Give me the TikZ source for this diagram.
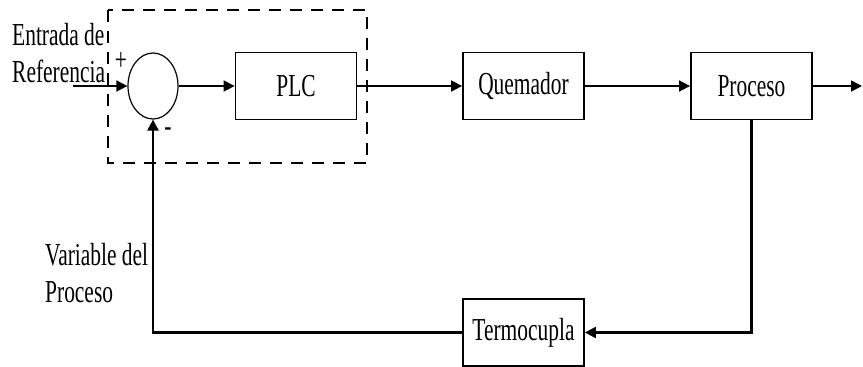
\documentclass[tikz,border=0pt]{standalone}
\usepackage{fontspec}
\newfontfamily\diagfont[FakeStretch=0.67]{Liberation Serif}
\usetikzlibrary{arrows.meta,shapes.geometric}

\begin{document}
\begin{tikzpicture}[x=1pt,y=-1pt,
    block/.style={draw,line width=1.8pt,minimum width=121pt,minimum height=67pt,inner sep=0pt,font=\diagfont\fontsize{32}{37}\selectfont},
    sumnode/.style={draw,ellipse,line width=1.2pt,minimum width=50pt,minimum height=66pt,inner sep=0pt},
    lbl/.style={font=\diagfont\fontsize{32}{37}\selectfont,align=left,inner sep=0pt},
    sign/.style={font=\diagfont\fontsize{32}{32}\selectfont,inner sep=0pt},
    sig/.style={line width=1.6pt,-{Triangle[length=11pt,width=11pt]}},
    fb/.style={line width=2.2pt,-{Triangle[length=11pt,width=11pt]}},
    ctrlbox/.style={line width=1.8pt,dash pattern=on 12pt off 9pt}
]
\useasboundingbox (0,0) rectangle (863,367);

\draw[ctrlbox] (108,10) rectangle (367,163);

\node[sumnode] (sum) at (153,86) {};
\node[block] (plc) at (296,86) {PLC};
\node[block] (quem) at (523.5,86) {Quemador};
\node[block] (proc) at (751.5,86) {Proceso};
\node[block] (termo) at (523.5,332.5) {Termocupla};

\node[lbl,anchor=north west] (refin) at (12,23) {Entrada de\\Referencia};
\node[lbl,anchor=north west] (pv) at (45,243) {Variable del\\Proceso};
\node[sign] (plus) at (121,61) {+};
\node[sign] (minus) at (168,132) {-};

\coordinate (ref) at (73,86);
\coordinate (out) at (862,86);

\draw[sig] (ref) -- (sum.west);
\draw[sig] (sum.east) -- (plc.west);
\draw[sig] (plc.east) -- (quem.west);
\draw[sig] (quem.east) -- (proc.west);
\draw[sig] (proc.east) -- (out);
\draw[fb] (proc.south) |- (termo.east);
\draw[fb] (termo.west) -| (sum.south);
\end{tikzpicture}
\end{document}
